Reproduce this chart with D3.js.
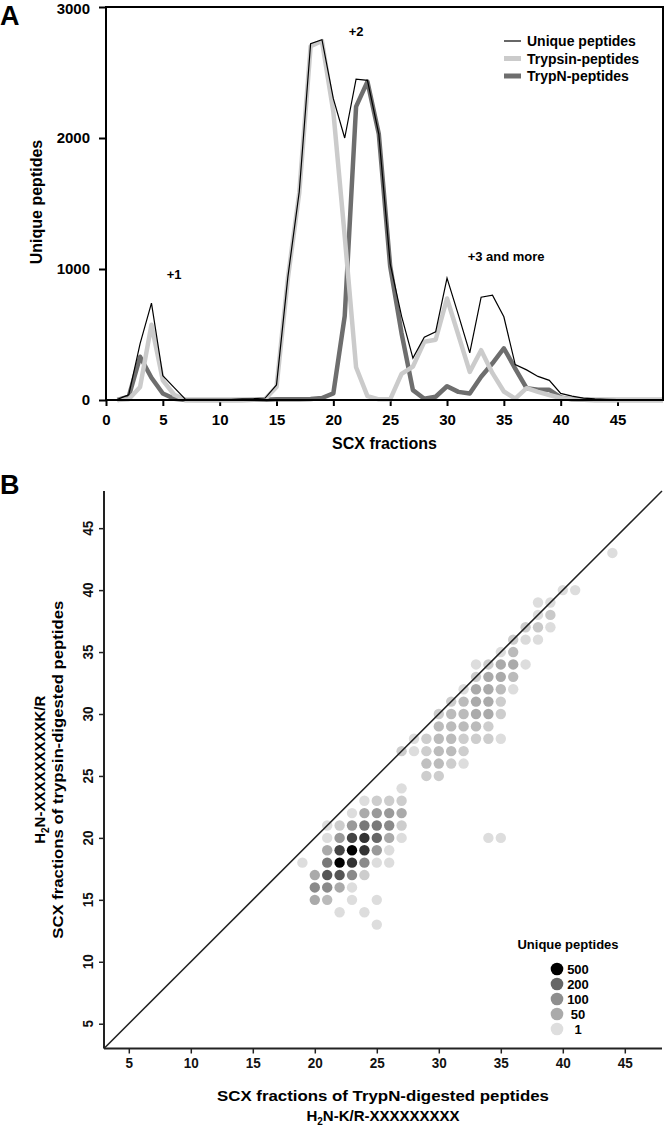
<!DOCTYPE html>
<html>
<head>
<meta charset="utf-8">
<style>
  body { margin: 0; background: #fff; }
  svg { display: block; font-family: "Liberation Sans", Arial, sans-serif; font-weight: bold; }
</style>
</head>
<body>
<script src="https://cdn.jsdelivr.net/npm/d3@7/dist/d3.min.js"></script>
<script>
// ---- panel A data : peptides per SCX fraction
var fractions = [1,2,3,4,5,6,7,8,9,10,11,12,13,14,15,16,17,18,19,20,21,22,23,24,25,
  26,27,28,29,30,31,32,33,34,35,36,37,38,39,40,41,42,43,44,45,46,47,48,49];
var uniquePep = [5,40,430,740,185,95,5,5,5,5,5,8,10,15,115,940,1590,2720,2750,2300,2000,2450,2440,2030,1040,
  640,320,480,520,930,650,360,785,800,635,270,230,180,150,50,30,15,8,5,3,2,2,1,1];
var trypsinPep = [0,5,100,575,150,40,2,0,0,0,0,2,3,8,100,930,1580,2700,2740,2200,1250,250,30,5,5,
  200,255,445,460,775,495,215,380,205,65,10,90,62,38,15,5,3,2,1,0,0,0,0,0];
var trypNPep = [0,25,330,170,50,10,0,0,0,0,0,0,1,2,5,5,5,8,15,50,640,2240,2430,2030,1020,
  510,75,10,25,105,62,50,178,280,395,240,90,78,78,20,5,2,0,0,0,0,0,0,0];
var xTicksA = [0,5,10,15,20,25,30,35,40,45];
var yTicksA = [0,1000,2000,3000];
var legendA = ["Unique peptides", "Trypsin-peptides", "TrypN-peptides"];
var notesA = ["+1", "+2", "+3 and more"];
var notesAx = [6, 22, 35.2];
var notesAy = [920, 2780, 1060];

// ---- panel B data : TrypN fraction (x), trypsin fraction (y), number of peptides
var dotX = [44, 40,41, 38,39, 38,39, 37,38,39, 36,37,38, 35,36, 33,34,35,36,37, 33,34,35,36,
  32,33,34,35,36, 31,32,33,34,35, 30,31,32,33,34,35, 30,31,32,33,34, 28,29,30,31,32,33,34,35,
  27,28,29,30,31,32, 29,30,31,32, 29,30, 34,35,
  27, 24,25,26,27, 23,24,25,26,27, 21,22,23,24,25,26,27, 21,22,23,24,25,26,27,
  21,22,23,24,25,26, 19,21,22,23,24,25,26, 20,21,22,23,24, 20,21,22,23, 20,21,23,25, 22,24, 25];
var dotY = [43, 40,40, 39,39, 38,38, 37,37,37, 36,36,36, 35,35, 34,34,34,34,34, 33,33,33,33,
  32,32,32,32,32, 31,31,31,31,31, 30,30,30,30,30,30, 29,29,29,29,29, 28,28,28,28,28,28,28,28,
  27,27,27,27,27,27, 26,26,26,26, 25,25, 20,20,
  24, 23,23,23,23, 22,22,22,22,22, 21,21,21,21,21,21,21, 20,20,20,20,20,20,20,
  19,19,19,19,19,19, 18,18,18,18,18,18,18, 17,17,17,17,17, 16,16,16,16, 15,15,15,15, 14,14, 13];
var dotN = [2, 2,2, 2,2, 2,21, 17,21,2, 17,5,2, 2,34, 2,17,50,50,2, 17,50,50,34,
  2,50,50,34,2, 17,34,50,50,17, 17,34,34,50,50,17, 34,34,34,34,17, 2,17,34,34,17,17,17,2,
  17,2,17,34,34,17, 29,34,17,2, 17,17, 2,2,
  2, 2,17,17,17, 2,50,78,78,50, 2,17,78,155,155,110,17, 2,78,300,350,200,50,2,
  50,300,500,350,78,2, 2,155,500,350,110,2,2, 50,250,250,110,17, 110,110,50,2, 50,34,2,2, 2,2, 2];
var ticksB = [5,10,15,20,25,30,35,40,45];
var legendCounts = [500, 200, 100, 50, 1];

var svg = d3.select("body").append("svg")
  .attr("width", 664)
  .attr("height", 1126);

// =========== panel A ===========
var xA = d3.scaleLinear().domain([0, 49]).range([106, 663]);
var yA = d3.scaleLinear().domain([0, 3000]).range([400, 7]);

var gA = svg.append("g");

gA.append("g")
  .attr("transform", "translate(0,400)")
  .call(d3.axisBottom(xA).tickValues(xTicksA).tickSize(6).tickPadding(8))
  .call(function(g){ g.select(".domain").remove(); })
  .call(function(g){
    g.selectAll("line").attr("stroke", "#000").attr("stroke-width", 2);
    g.selectAll("text").attr("font-size", 15).attr("font-weight", "bold")
      .attr("font-family", null).attr("fill", "#000");
  });

gA.append("g")
  .attr("transform", "translate(106,0)")
  .call(d3.axisLeft(yA).tickValues(yTicksA).tickFormat(d3.format("d")).tickSize(7).tickPadding(9))
  .call(function(g){ g.select(".domain").remove(); })
  .call(function(g){
    g.selectAll("line").attr("stroke", "#000").attr("stroke-width", 2);
    g.selectAll("text").attr("font-size", 15).attr("font-weight", "bold")
      .attr("font-family", null).attr("fill", "#000")
      .attr("dy", function(d){ return d === 3000 ? "0.45em" : "0.32em"; });
  });

var lineA = function(vals){
  return d3.line()
    .x(function(d, i){ return xA(fractions[i]); })
    .y(function(d){ return yA(d); })(vals);
};

gA.append("path").attr("d", lineA(trypNPep))
  .attr("fill", "none").attr("stroke", "#6e6e6e").attr("stroke-width", 4.5)
  .attr("stroke-linejoin", "round");
gA.append("path").attr("d", lineA(trypsinPep))
  .attr("fill", "none").attr("stroke", "#cbcbcb").attr("stroke-width", 4.5)
  .attr("stroke-linejoin", "round");
gA.append("path").attr("d", lineA(uniquePep))
  .attr("fill", "none").attr("stroke", "#000").attr("stroke-width", 1.2);

// frame
gA.append("rect")
  .attr("x", xA(0)).attr("y", yA(3000))
  .attr("width", xA(49) - xA(0)).attr("height", yA(0) - yA(3000))
  .attr("fill", "none").attr("stroke", "#000").attr("stroke-width", 2);

// legend
var legColors = ["#000", "#cbcbcb", "#6e6e6e"];
var legWidths = [1.2, 5, 5];
legendA.forEach(function(name, i){
  var y = 41 + i * 17.5;
  gA.append("line").attr("x1", 504).attr("x2", 521).attr("y1", y).attr("y2", y)
    .attr("stroke", legColors[i]).attr("stroke-width", legWidths[i]);
  gA.append("text").attr("x", 527).attr("y", y + 5)
    .attr("font-size", 14).text(name);
});

notesA.forEach(function(t, i){
  gA.append("text").attr("x", xA(notesAx[i])).attr("y", yA(notesAy[i]))
    .attr("text-anchor", "middle").attr("font-size", 13).text(t);
});

gA.append("text")
  .attr("transform", "translate(42,202) rotate(-90)")
  .attr("text-anchor", "middle").attr("font-size", 16).text("Unique peptides");
gA.append("text")
  .attr("x", (xA(0) + xA(49)) / 2).attr("y", 449)
  .attr("text-anchor", "middle").attr("font-size", 16).text("SCX fractions");

svg.append("text").attr("x", 0).attr("y", 25).attr("font-size", 27).text("A");
svg.append("text").attr("x", 0).attr("y", 494).attr("font-size", 27).text("B");

// =========== panel B ===========
var xB = d3.scaleLinear().domain([3, 48]).range([104, 662]);
var yB = d3.scaleLinear().domain([3, 48]).range([1048.5, 491]);
var shade = d3.scaleLinear()
  .domain([1, 50, 100, 200, 500])
  .range(["#dedede", "#aaaaaa", "#8e8e8e", "#666666", "#000000"]);

var gB = svg.append("g");

gB.selectAll("circle.dot")
  .data(dotN)
  .enter().append("circle")
  .attr("class", "dot")
  .attr("cx", function(d, i){ return xB(dotX[i]); })
  .attr("cy", function(d, i){ return yB(dotY[i]); })
  .attr("r", 5.2)
  .attr("fill", function(d){ return shade(d); });

// diagonal
gB.append("line")
  .attr("x1", xB(3)).attr("y1", yB(3)).attr("x2", xB(48)).attr("y2", yB(48))
  .attr("stroke", "#222").attr("stroke-width", 1.5);

gB.append("g")
  .attr("transform", "translate(0," + yB(3) + ")")
  .call(d3.axisBottom(xB).tickValues(ticksB).tickSize(5).tickPadding(4))
  .call(function(g){
    g.select(".domain").attr("stroke", "#222").attr("stroke-width", 2)
      .attr("d", "M" + xB(3) + ",0H" + xB(48));
    g.selectAll("line").attr("stroke", "#222").attr("stroke-width", 1.5);
    g.selectAll("text").attr("font-size", 15).attr("fill", "#111")
      .attr("font-family", null).attr("transform", "scale(0.9,1)");
  });

gB.append("g")
  .attr("transform", "translate(" + xB(3) + ",0)")
  .call(d3.axisLeft(yB).tickValues(ticksB).tickSize(5).tickPadding(4))
  .call(function(g){
    g.select(".domain").attr("stroke", "#222").attr("stroke-width", 2)
      .attr("d", "M0," + yB(48) + "V" + yB(3));
    g.selectAll("line").attr("stroke", "#222").attr("stroke-width", 1.5);
    g.selectAll("text").remove();
  });
ticksB.forEach(function(t){
  gB.append("text")
    .attr("transform", "translate(93," + yB(t) + ") rotate(-90) scale(0.9,1)")
    .attr("text-anchor", "middle").attr("font-size", 15).attr("fill", "#111")
    .text(t);
});

// axis titles (narrowed a little, like the original figure)
var midX = (xB(3) + xB(48)) / 2;
gB.append("text").attr("x", midX).attr("y", 1100.5)
  .attr("text-anchor", "middle").attr("font-size", 15)
  .attr("textLength", 332).attr("lengthAdjust", "spacingAndGlyphs")
  .text("SCX fractions of TrypN-digested peptides");
var xt2 = gB.append("text").attr("x", midX).attr("y", 1121)
  .attr("text-anchor", "middle").attr("font-size", 15);
xt2.append("tspan").text("H");
xt2.append("tspan").attr("font-size", 10).attr("dy", 4).text("2");
xt2.append("tspan").attr("dy", -4).text("N-K/R-XXXXXXXXX");

var yMid = (yB(3) + yB(48)) / 2;
var yt = gB.append("text").attr("transform", "translate(45," + yMid + ") rotate(-90)")
  .attr("text-anchor", "middle").attr("font-size", 15);
yt.append("tspan").text("H");
yt.append("tspan").attr("font-size", 10).attr("dy", 4).text("2");
yt.append("tspan").attr("dy", -4).text("N-XXXXXXXXXK/R");
gB.append("text").attr("transform", "translate(63," + yMid + ") rotate(-90)")
  .attr("text-anchor", "middle").attr("font-size", 15)
  .attr("textLength", 338).attr("lengthAdjust", "spacingAndGlyphs")
  .text("SCX fractions of trypsin-digested peptides");

// legend B
var lg = gB.append("g");
lg.append("text").attr("x", 568).attr("y", 949).attr("text-anchor", "middle")
  .attr("font-size", 13).text("Unique peptides");
legendCounts.forEach(function(c, i){
  var y = 969 + i * 15;
  lg.append("circle").attr("cx", 557).attr("cy", y).attr("r", 6.3).attr("fill", shade(c));
  lg.append("text").attr("x", 578).attr("y", y + 4.5).attr("text-anchor", "middle")
    .attr("font-size", 13).text(c);
});
</script>
</body>
</html>
